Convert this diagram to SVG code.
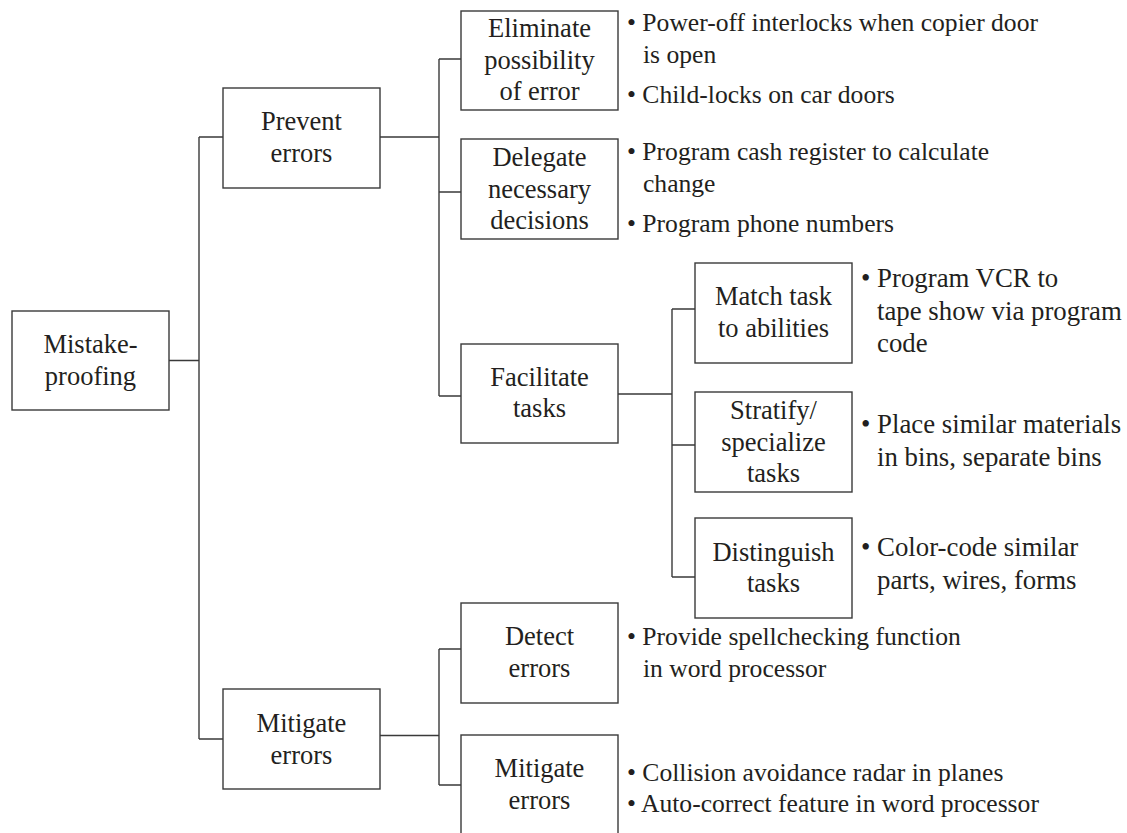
<svg xmlns="http://www.w3.org/2000/svg" width="1127" height="833" viewBox="0 0 1127 833">
  <style>
    .box { fill: #ffffff; stroke: #3a3a3a; stroke-width: 1.4; }
    .wire { fill: none; stroke: #3a3a3a; stroke-width: 1.4; }
    text { font-family: 'Liberation Serif', 'Times New Roman', Times, 'DejaVu Serif', serif; fill: #231f20; }
    .label { font-size: 26.5px; text-anchor: middle; }
    .note { font-size: 25.6px; }
    .note-r { font-size: 26.8px; }
  </style>
  <rect width="1127" height="833" fill="#ffffff"/>

  <!-- tree connectors -->
  <g id="connectors" class="wire">
    <path d="M169 360.5 H199 M199 137 V739 M199 137 H223 M199 739 H223"/>
    <path d="M380 137 H439 M439 59 V396 M439 59 H461 M439 192 H461 M439 396 H461"/>
    <path d="M618 394 H672 M672 309 V577 M672 309 H695 M672 445 H695 M672 577 H695"/>
    <path d="M380 735.5 H439 M439 649 V785 M439 649 H461 M439 785 H461"/>
  </g>

  <g id="mistake-proofing">
    <rect class="box" x="12" y="311" width="157" height="99"/>
    <text class="label" x="90.5" y="352.5">Mistake-</text>
    <text class="label" x="90.5" y="384.5">proofing</text>
  </g>

  <g id="prevent-errors">
    <rect class="box" x="223" y="88" width="157" height="100"/>
    <text class="label" x="301.5" y="130">Prevent</text>
    <text class="label" x="301.5" y="162">errors</text>
  </g>

  <g id="mitigate-errors">
    <rect class="box" x="223" y="689" width="157" height="100"/>
    <text class="label" x="301.5" y="731.5">Mitigate</text>
    <text class="label" x="301.5" y="763.5">errors</text>
  </g>

  <g id="eliminate">
    <rect class="box" x="461" y="11" width="157" height="99"/>
    <text class="label" x="539.5" y="37">Eliminate</text>
    <text class="label" x="539.5" y="68.5">possibility</text>
    <text class="label" x="539.5" y="100">of error</text>
    <text class="note" x="627" y="31">• Power-off interlocks when copier door</text>
    <text class="note" x="643" y="63">is open</text>
    <text class="note" x="627" y="103">• Child-locks on car doors</text>
  </g>

  <g id="delegate">
    <rect class="box" x="461" y="139" width="157" height="100"/>
    <text class="label" x="539.5" y="166">Delegate</text>
    <text class="label" x="539.5" y="197.5">necessary</text>
    <text class="label" x="539.5" y="229">decisions</text>
    <text class="note" x="627" y="160">• Program cash register to calculate</text>
    <text class="note" x="643" y="192">change</text>
    <text class="note" x="627" y="232">• Program phone numbers</text>
  </g>

  <g id="facilitate">
    <rect class="box" x="461" y="344" width="157" height="99"/>
    <text class="label" x="539.5" y="385.5">Facilitate</text>
    <text class="label" x="539.5" y="417">tasks</text>
  </g>

  <g id="match">
    <rect class="box" x="695" y="263" width="157" height="100"/>
    <text class="label" x="773.5" y="305">Match task</text>
    <text class="label" x="773.5" y="337">to abilities</text>
    <text class="note-r" x="861" y="287">• Program VCR to</text>
    <text class="note-r" x="877" y="319.5">tape show via program</text>
    <text class="note-r" x="877" y="351.5">code</text>
  </g>

  <g id="stratify">
    <rect class="box" x="695" y="392" width="157" height="100"/>
    <text class="label" x="773.5" y="419">Stratify/</text>
    <text class="label" x="773.5" y="450.5">specialize</text>
    <text class="label" x="773.5" y="482">tasks</text>
    <text class="note-r" x="861" y="433">• Place similar materials</text>
    <text class="note-r" x="877" y="465.5">in bins, separate bins</text>
  </g>

  <g id="distinguish">
    <rect class="box" x="695" y="518" width="157" height="100"/>
    <text class="label" x="773.5" y="560.5">Distinguish</text>
    <text class="label" x="773.5" y="592">tasks</text>
    <text class="note-r" x="861" y="556">• Color-code similar</text>
    <text class="note-r" x="877" y="588.5">parts, wires, forms</text>
  </g>

  <g id="detect">
    <rect class="box" x="461" y="603" width="157" height="100"/>
    <text class="label" x="539.5" y="645">Detect</text>
    <text class="label" x="539.5" y="677">errors</text>
    <text class="note" x="627" y="645">• Provide spellchecking function</text>
    <text class="note" x="643" y="677">in word processor</text>
  </g>

  <g id="mitigate">
    <rect class="box" x="461" y="735" width="157" height="110"/>
    <text class="label" x="539.5" y="777">Mitigate</text>
    <text class="label" x="539.5" y="808.5">errors</text>
    <text class="note" x="627" y="781">• Collision avoidance radar in planes</text>
    <text class="note" x="627" y="812">• Auto-correct feature in word processor</text>
  </g>
</svg>
